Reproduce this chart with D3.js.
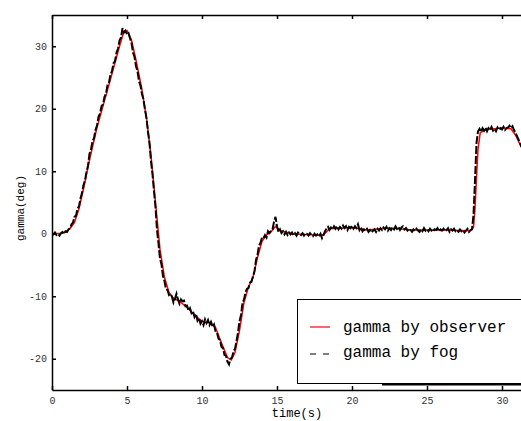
<!DOCTYPE html>
<html>
<head>
<meta charset="utf-8">
<script src="https://cdn.jsdelivr.net/npm/d3@7"></script>
<style>
  body { margin: 0; background: #fff; }
  svg { display: block; }
  .tick text { font-family: "Liberation Mono", monospace; font-size: 10px; fill: #333; }
  .axis path, .axis line { stroke: #000; stroke-width: 1.5; }
</style>
</head>
<body>
<div id="chart"></div>
<script>
// gamma by observer (smooth estimate)
const obsTime = [0, 0.8, 1.2, 1.5, 1.8, 2.1, 2.5, 3.0, 3.5, 4.0, 4.5, 4.8, 5.0, 5.3, 5.6, 6.0, 6.3, 6.6, 6.9,
  7.2, 7.5, 7.8, 8.1, 8.5, 9.0, 9.5, 10.0, 10.5, 10.9, 11.3, 11.7, 11.95, 12.2, 12.5, 12.8, 13.1, 13.4,
  13.7, 14.0, 14.3, 14.6, 14.9, 15.2, 16.0, 17.5, 18.1, 18.5, 20.0, 21.0, 22.5, 24.0, 26.0, 27.9,
  28.1, 28.2, 28.3, 28.4, 28.55, 29.0, 30.0, 30.6, 30.9, 31.3];
const obsGamma = [0, 0.1, 0.8, 1.8, 4.0, 7.2, 11.8, 17.0, 21.3, 25.6, 30.0, 32.4, 32.5, 31.0, 27.8, 23.0, 18.5, 12.5, 5.0,
  -2.5, -7.0, -9.4, -10.3, -10.8, -11.8, -13.0, -14.0, -14.3, -15.0, -17.5, -19.8, -20.2, -19.0, -15.5, -11.0, -8.5, -7.0,
  -3.8, -1.2, -0.2, 0.3, 1.2, 0.5, 0.0, -0.2, -0.2, 0.8, 1.0, 0.6, 0.9, 0.6, 0.6, 0.5,
  1.0, 4.0, 9.0, 13.5, 16.2, 16.7, 16.9, 16.8, 15.8, 13.8];

// gamma by fog, sampled every 0.1 s from t = 0
const fogStep = 0.1;
const fogGamma = [
  0.1, -0.1, 0.2, -0.2, 0.0, -0.3, 0.1, 0.3, 0.0, 0.4,
  0.3, 0.7, 0.9, 1.5, 1.8, 2.7, 2.9, 4.0, 4.4, 5.7,
  6.5, 7.8, 8.5, 9.9, 10.9, 12.8, 13.5, 14.8, 15.3, 16.6,
  17.3, 18.7, 19.2, 20.4, 20.7, 21.9, 22.4, 23.8, 24.2, 25.5,
  26.0, 27.3, 27.6, 29.0, 29.6, 30.9, 31.4, 32.9, 32.2, 32.5,
  31.9, 32.1, 31.3, 30.5, 29.0, 28.3, 26.8, 26.0, 24.4, 23.7,
  22.3, 21.5, 19.8, 18.5, 16.3, 14.5, 11.6, 9.5, 6.8, 4.2,
  0.6, -1.6, -4.0, -4.9, -6.8, -7.6, -8.9, -9.0, -9.8, -9.6,
  -10.1, -11.0, -10.4, -9.6, -10.5, -11.2, -10.5, -10.8, -10.7, -11.6,
  -11.5, -12.3, -11.9, -12.7, -12.4, -13.3, -12.8, -13.9, -13.5, -14.4,
  -14.0, -14.6, -13.7, -14.3, -13.8, -14.6, -14.1, -14.8, -14.5, -15.6,
  -15.8, -16.8, -17.0, -18.1, -18.3, -19.4, -19.5, -20.5, -20.9, -20.0,
  -19.8, -18.8, -18.4, -17.2, -15.8, -14.0, -13.0, -11.1, -10.5, -9.4,
  -8.8, -8.7, -7.8, -7.7, -6.8, -6.0, -4.2, -3.4, -1.9, -1.5,
  -0.6, -0.7, -0.2, -0.6, 0.4, 0.1, 0.5, 0.7, 1.9, 2.7,
  1.2, 0.3, 0.7, 0.1, 0.4, -0.1, 0.3, -0.2, 0.2, -0.1,
  0.2, -0.2, 0.1, -0.3, 0.2, 0.0, -0.2, 0.1, -0.3, 0.1,
  0.0, -0.3, 0.1, -0.2, -0.4, 0.0, -0.3, -0.1, -0.4, 0.0,
  -0.7, -0.2, 0.4, 0.8, 1.1, 0.6, 1.0, 0.7, 1.2, 0.8,
  1.2, 0.7, 1.1, 0.8, 1.3, 0.9, 1.2, 0.6, 1.1, 0.9,
  1.3, 0.8, 1.2, 0.9, 1.5, 0.6, 1.0, 0.4, 0.7, 0.5,
  0.8, 0.3, 0.6, 0.2, 0.5, 0.7, 0.3, 0.8, 0.5, 0.9,
  0.6, 1.0, 0.7, 1.1, 0.5, 0.9, 0.6, 1.0, 0.7, 1.2,
  0.8, 1.1, 0.6, 1.0, 1.2, 0.7, 0.9, 0.5, 0.8, 0.6,
  0.3, 0.7, 0.4, 0.8, 0.5, 0.3, 0.7, 0.4, 0.9, 0.5,
  0.7, 0.4, 0.8, 0.5, 0.3, 0.7, 0.6, 0.9, 0.4, 0.7,
  0.5, 0.8, 0.4, 0.6, 0.9, 0.3, 0.7, 0.5, 0.8, 0.4,
  0.6, 0.3, 0.7, 0.4, 0.6, 0.2, 0.5, 0.8, 0.3, 0.6,
  0.7, 3.0, 8.5, 14.5, 16.4, 16.8, 16.3, 16.9, 16.5, 17.0,
  16.4, 16.9, 16.6, 17.1, 16.5, 16.8, 16.4, 17.0, 16.6, 16.9,
  16.7, 17.1, 16.6, 16.9, 17.0, 17.3, 16.9, 17.2, 16.6, 16.2,
  15.6, 15.1, 14.5, 13.9
];

const xTicks = [0, 5, 10, 15, 20, 25, 30];
const yTicks = [-20, -10, 0, 10, 20, 30];
const legendLabels = ["gamma by observer", "gamma by fog"];

const width = 521,
  height = 421,
  margin = {top: 15, right: -56, bottom: 31, left: 52};

const svg = d3.select("#chart")
  .append("svg")
  .attr("width", width)
  .attr("height", height);

const x = d3.scaleLinear([0, 35], [margin.left, width - margin.right]);
const y = d3.scaleLinear([-25, 35], [height - margin.bottom, margin.top]);

svg.append("defs").append("clipPath")
  .attr("id", "plot")
  .append("rect")
  .attr("x", margin.left)
  .attr("y", margin.top)
  .attr("width", width - margin.right - margin.left)
  .attr("height", height - margin.bottom - margin.top);

const obs = obsTime.map((t, i) => ({t: t, g: obsGamma[i]}));
const fog = fogGamma.map((g, i) => ({t: i * fogStep, g: g}));

const line = d3.line().x(d => x(d.t)).y(d => y(d.g));

svg.append("path")
  .datum(obs)
  .attr("clip-path", "url(#plot)")
  .attr("fill", "none")
  .attr("stroke", "#ff0000")
  .attr("stroke-width", 1.5)
  .attr("d", line);

svg.append("path")
  .datum(fog)
  .attr("clip-path", "url(#plot)")
  .attr("fill", "none")
  .attr("stroke", "#000")
  .attr("stroke-width", 2)
  .attr("stroke-dasharray", "8,2")
  .attr("d", line);

// axes, ticks point inward
svg.append("g")
  .attr("class", "axis")
  .attr("transform", `translate(0,${height - margin.bottom})`)
  .call(d3.axisBottom(x).tickValues(xTicks).tickSizeInner(-4).tickSizeOuter(0).tickPadding(7));

svg.append("g")
  .attr("class", "axis")
  .attr("transform", `translate(0,${margin.top})`)
  .call(d3.axisTop(x).tickValues(xTicks).tickSizeInner(-4).tickSizeOuter(0).tickFormat(""));

svg.append("g")
  .attr("class", "axis")
  .attr("transform", `translate(${margin.left},0)`)
  .call(d3.axisLeft(y).tickValues(yTicks).tickSizeInner(-4).tickSizeOuter(0).tickPadding(5));

svg.selectAll(".tick text").text(function () { return this.textContent.replace("−", "-"); });

svg.append("text")
  .attr("transform", "rotate(-90)")
  .attr("x", -208)
  .attr("y", 24)
  .attr("text-anchor", "middle")
  .style("font-family", "Liberation Mono, monospace")
  .style("font-size", "11px")
  .text("gamma(deg)");

svg.append("text")
  .attr("x", 297)
  .attr("y", 417)
  .attr("text-anchor", "middle")
  .style("font-family", "Liberation Mono, monospace")
  .style("font-size", "12px")
  .text("time(s)");

// legend
const legend = svg.append("g");

legend.append("rect")
  .attr("x", 297.5)
  .attr("y", 299.5)
  .attr("width", 260)
  .attr("height", 84)
  .attr("fill", "#fff")
  .attr("stroke", "#000")
  .attr("stroke-width", 1);

legend.append("line")
  .attr("x1", 382).attr("x2", width)
  .attr("y1", 384.5).attr("y2", 384.5)
  .attr("stroke", "#000")
  .attr("stroke-width", 2);

legend.selectAll(".legend-line")
  .data(legendLabels)
  .join("line")
  .attr("class", "legend-line")
  .attr("x1", 310)
  .attr("x2", 330)
  .attr("y1", (d, i) => 327 + i * 27)
  .attr("y2", (d, i) => 327 + i * 27)
  .attr("stroke", (d, i) => i === 0 ? "#ff0000" : "#000")
  .attr("stroke-width", 1.2)
  .attr("stroke-dasharray", (d, i) => i === 0 ? null : "6,7");

legend.selectAll(".legend-text")
  .data(legendLabels)
  .join("text")
  .attr("class", "legend-text")
  .attr("x", 343)
  .attr("y", (d, i) => 332 + i * 25)
  .style("font-family", "Liberation Mono, monospace")
  .style("font-size", "16px")
  .text(d => d);
</script>
</body>
</html>
